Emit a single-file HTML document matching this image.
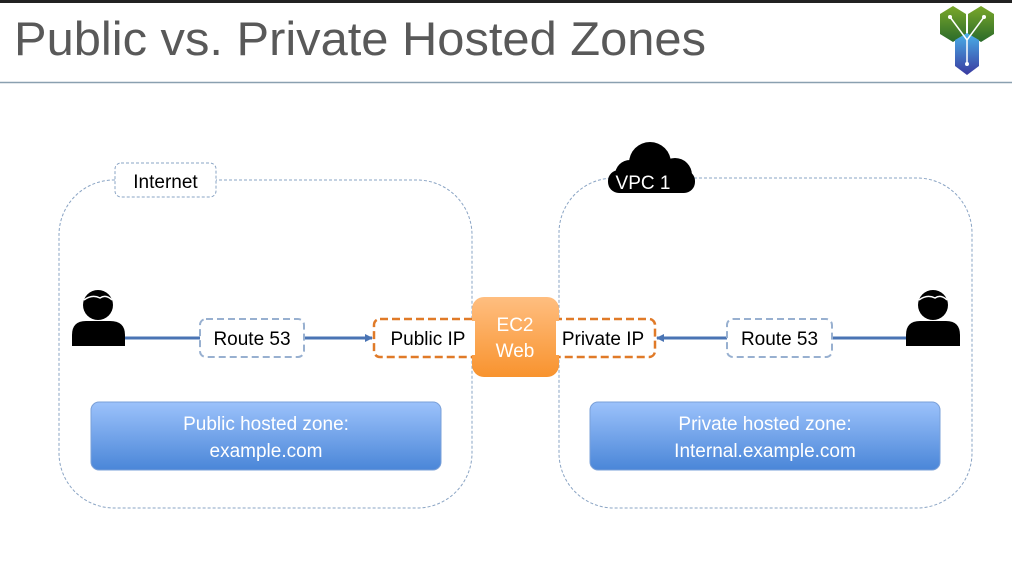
<!DOCTYPE html>
<html><head><meta charset="utf-8"><style>
html,body{margin:0;padding:0;background:#fff;}
svg{display:block;font-family:"Liberation Sans",sans-serif;}
</style></head><body>
<svg width="1012" height="571" viewBox="0 0 1012 571" xmlns="http://www.w3.org/2000/svg">
<defs>
<linearGradient id="bl" x1="0" y1="0" x2="0" y2="1"><stop offset="0" stop-color="#9cc2fb"/><stop offset="1" stop-color="#4a86d8"/></linearGradient>
<linearGradient id="or" x1="0" y1="0" x2="0" y2="1"><stop offset="0" stop-color="#ffbe80"/><stop offset="1" stop-color="#f8932e"/></linearGradient>
<linearGradient id="lg" x1="0" y1="0" x2="0" y2="1"><stop offset="0" stop-color="#7aa82a"/><stop offset="1" stop-color="#2a6a2a"/></linearGradient>
<linearGradient id="lb" x1="0" y1="0" x2="0" y2="1"><stop offset="0" stop-color="#4ab0e8"/><stop offset="1" stop-color="#3a3aa0"/></linearGradient>
<marker id="ar" markerWidth="8" markerHeight="8" refX="7" refY="4" orient="auto" markerUnits="userSpaceOnUse"><path d="M0,0 L8,4 L0,8 Z" fill="#4a74b4"/></marker>
</defs>
<rect x="0" y="0" width="1012" height="3" fill="#222"/>
<text x="14" y="55" font-size="47" fill="#595959" font-family="Liberation Sans, sans-serif" textLength="692" lengthAdjust="spacingAndGlyphs">Public vs. Private Hosted Zones</text>
<line x1="0" y1="82.5" x2="1012" y2="82.5" stroke="#8aa0b0" stroke-width="1.5"/>
<!-- logo -->
<path d="M940,14 L953,6 L966,14 L966,34 L953,42 L940,34 Z" fill="url(#lg)"/>
<path d="M968,14 L981,6 L994,14 L994,34 L981,42 L968,34 Z" fill="url(#lg)"/>
<path d="M955,40 L967,33 L979,40 L979,66 L967,75 L955,66 Z" fill="url(#lb)"/>
<path d="M950,17 L967,40 L984,17 M967,40 L967,64" stroke="#fff" stroke-width="1.5" fill="none"/>
<circle cx="950" cy="17" r="2" fill="#fff"/><circle cx="984" cy="17" r="2" fill="#fff"/><circle cx="967" cy="64" r="2" fill="#fff"/>
<!-- zones -->
<rect x="59" y="180" width="413" height="328" rx="55" fill="none" stroke="#8aa4c4" stroke-width="1" stroke-dasharray="3,2"/>
<rect x="559" y="178" width="413" height="330" rx="55" fill="none" stroke="#8aa4c4" stroke-width="1" stroke-dasharray="3,2"/>
<rect x="115" y="163" width="101" height="34" rx="6" fill="#fff" stroke="#8aa4c4" stroke-width="1" stroke-dasharray="3,2"/>
<text x="165.5" y="188" font-size="19" text-anchor="middle" fill="#000">Internet</text>
<!-- cloud -->
<g fill="#000">
<circle cx="650" cy="163" r="21"/><circle cx="630" cy="175" r="15"/><circle cx="675" cy="175" r="17"/>
<rect x="608" y="170" width="87" height="23" rx="11"/>
</g>
<text x="643" y="189" font-size="19" text-anchor="middle" fill="#fff">VPC 1</text>
<!-- connectors -->
<line x1="125" y1="338" x2="200" y2="338" stroke="#4a74b4" stroke-width="3"/>
<line x1="304" y1="338" x2="372" y2="338" stroke="#4a74b4" stroke-width="3" marker-end="url(#ar)"/>
<line x1="727" y1="338" x2="657" y2="338" stroke="#4a74b4" stroke-width="3" marker-end="url(#ar)"/>
<line x1="832" y1="338" x2="906" y2="338" stroke="#4a74b4" stroke-width="3"/>
<!-- route 53 -->
<rect x="200" y="319" width="104" height="38" rx="6" fill="#fff" stroke="#98b0d0" stroke-width="2" stroke-dasharray="7,4"/>
<text x="252" y="345" font-size="19" text-anchor="middle" fill="#000">Route 53</text>
<rect x="727" y="319" width="105" height="38" rx="6" fill="#fff" stroke="#98b0d0" stroke-width="2" stroke-dasharray="7,4"/>
<text x="779.5" y="345" font-size="19" text-anchor="middle" fill="#000">Route 53</text>
<!-- IP boxes -->
<rect x="374" y="319" width="105" height="38" rx="6" fill="#fff" stroke="#e07a28" stroke-width="2.5" stroke-dasharray="8,4"/>
<rect x="548" y="319" width="107" height="38" rx="6" fill="#fff" stroke="#e07a28" stroke-width="2.5" stroke-dasharray="8,4"/>
<rect x="472" y="297" width="87" height="80" rx="12" fill="url(#or)"/>
<rect x="465" y="321" width="10" height="34" fill="#fff"/>
<rect x="556" y="321" width="10" height="34" fill="#fff"/>
<text x="428" y="345" font-size="19" text-anchor="middle" fill="#000">Public IP</text>
<text x="603" y="345" font-size="19" text-anchor="middle" fill="#000">Private IP</text>
<text x="515" y="331" font-size="19" text-anchor="middle" fill="#fff">EC2</text>
<text x="515" y="357" font-size="19" text-anchor="middle" fill="#fff">Web</text>
<!-- persons -->
<g fill="#000">
<circle cx="98" cy="305" r="15"/>
<path d="M72,346 L72,335 Q72,321 86,321 L110,321 Q125,321 125,335 L125,346 Z"/>
<circle cx="933" cy="305" r="15"/>
<path d="M906,346 L906,335 Q906,321 920,321 L946,321 Q960,321 960,335 L960,346 Z"/>
</g>
<path d="M84,300 Q92,294 100,298 Q106,294 112,300" stroke="#fff" stroke-width="1.5" fill="none"/>
<path d="M919,300 Q927,294 935,298 Q941,294 947,300" stroke="#fff" stroke-width="1.5" fill="none"/>
<!-- hosted zones -->
<rect x="91" y="402" width="350" height="68" rx="8" fill="url(#bl)" stroke="#7aa0d8" stroke-width="1"/>
<text x="266" y="430" font-size="19" text-anchor="middle" fill="#fff">Public hosted zone:</text>
<text x="266" y="457" font-size="19" text-anchor="middle" fill="#fff">example.com</text>
<rect x="590" y="402" width="350" height="68" rx="8" fill="url(#bl)" stroke="#7aa0d8" stroke-width="1"/>
<text x="765" y="430" font-size="19" text-anchor="middle" fill="#fff">Private hosted zone:</text>
<text x="765" y="457" font-size="19" text-anchor="middle" fill="#fff">Internal.example.com</text>
</svg>
</body></html>
